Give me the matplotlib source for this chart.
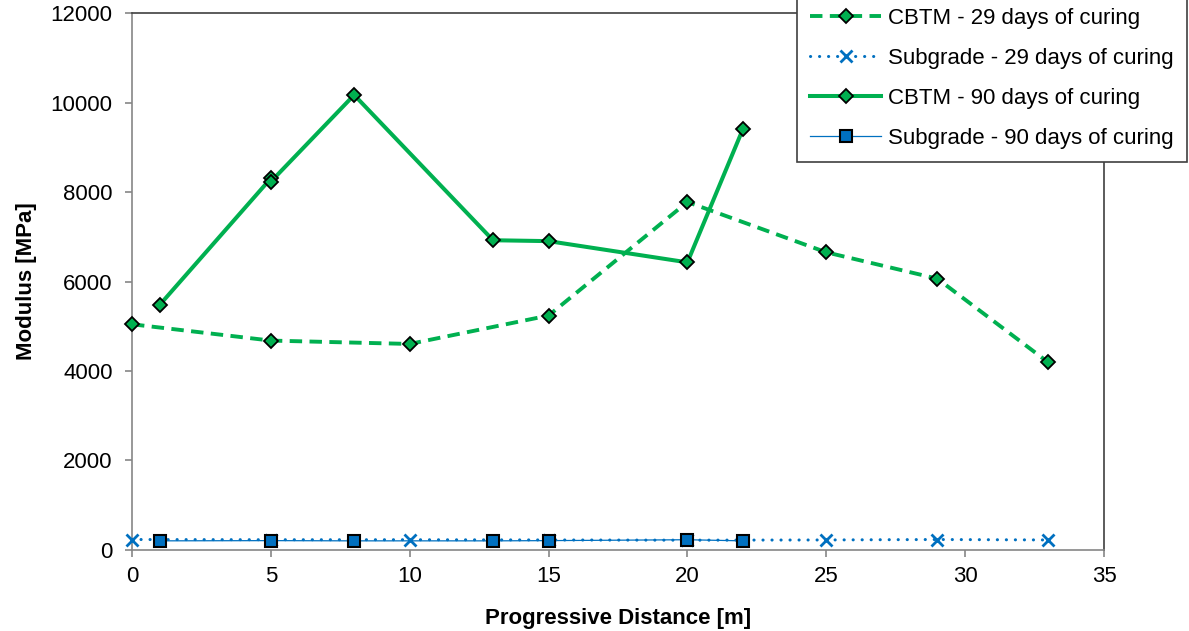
import matplotlib
matplotlib.use("Agg")
import matplotlib.pyplot as plt

plt.rcParams['font.family'] = ['Liberation Sans', 'DejaVu Sans']

# Falling weight deflectometer back-calculated moduli along the test section
cbtm29_x = [0, 5, 10, 15, 20, 25, 29, 33]
cbtm29_y = [5045, 4680, 4605, 5240, 7780, 6655, 6065, 4190]

sub29_x = [0, 5, 10, 15, 20, 25, 29, 33]
sub29_y = [230, 225, 225, 220, 215, 220, 230, 220]

cbtm90_x = [1, 5, 5, 8, 13, 15, 20, 22]
cbtm90_y = [5480, 8310, 8235, 10175, 6925, 6905, 6430, 9415]

sub90_x = [1, 5, 8, 13, 15, 20, 22]
sub90_y = [200, 205, 200, 200, 205, 225, 200]

labels = ["CBTM - 29 days of curing", "Subgrade - 29 days of curing",
          "CBTM - 90 days of curing", "Subgrade - 90 days of curing"]

x_ticks = [0, 5, 10, 15, 20, 25, 30, 35]
y_ticks = [0, 2000, 4000, 6000, 8000, 10000, 12000]

green = "#00B050"
blue = "#0070C0"
fs = 16

fig = plt.figure(figsize=(11.89, 6.31), dpi=100)
ax = fig.add_axes([0.111, 0.1287, 0.8175, 0.8501])

ax.plot(cbtm29_x, cbtm29_y, color=green, lw=2.8, linestyle=(0, (3.2, 1.9)),
        marker='D', ms=7, mfc=green, mec='black', mew=1.3,
        label=labels[0], clip_on=False, zorder=3)
ax.plot(sub29_x, sub29_y, color=blue, lw=2.2, linestyle=(0, (0.05, 2.9)),
        dash_capstyle='round', marker='x', ms=9, mec=blue, mew=2.0,
        label=labels[1], clip_on=False, zorder=3)
ax.plot(cbtm90_x, cbtm90_y, color=green, lw=2.9, linestyle='-',
        marker='D', ms=7, mfc=green, mec='black', mew=1.3,
        label=labels[2], clip_on=False, zorder=4)
ax.plot(sub90_x, sub90_y, color=blue, lw=0.9, linestyle='-',
        marker='s', ms=9, mfc=blue, mec='black', mew=1.5,
        label=labels[3], clip_on=False, zorder=4)

ax.set_xlim(0, 35)
ax.set_ylim(0, 12000)
ax.set_xticks(x_ticks)
ax.set_yticks(y_ticks)
ax.tick_params(axis='both', labelsize=fs, colors='#868686', labelcolor='black',
               length=5, width=1.2, direction='out')
ax.tick_params(axis='y', pad=9)
ax.tick_params(axis='x', pad=7)

for side in ('left', 'bottom'):
    ax.spines[side].set_color('#868686')
    ax.spines[side].set_linewidth(1.2)
for side in ('top', 'right'):
    ax.spines[side].set_color('#404040')
    ax.spines[side].set_linewidth(1.2)

ax.set_xlabel("Progressive Distance [m]", fontsize=fs, fontweight='bold', labelpad=15)
ax.set_ylabel("Modulus [MPa]", fontsize=fs, fontweight='bold', labelpad=10)

leg = ax.legend(loc='upper right', bbox_to_anchor=(1187 / 1189, 1.009),
                bbox_transform=fig.transFigure, fontsize=fs, frameon=True,
                fancybox=False, edgecolor='#404040', framealpha=1,
                handlelength=3.2, handletextpad=0.3, labelspacing=0.86,
                borderpad=0.6, borderaxespad=0)
leg.get_frame().set_linewidth(1.2)

fig.savefig("out.png", dpi=100, facecolor='white')
